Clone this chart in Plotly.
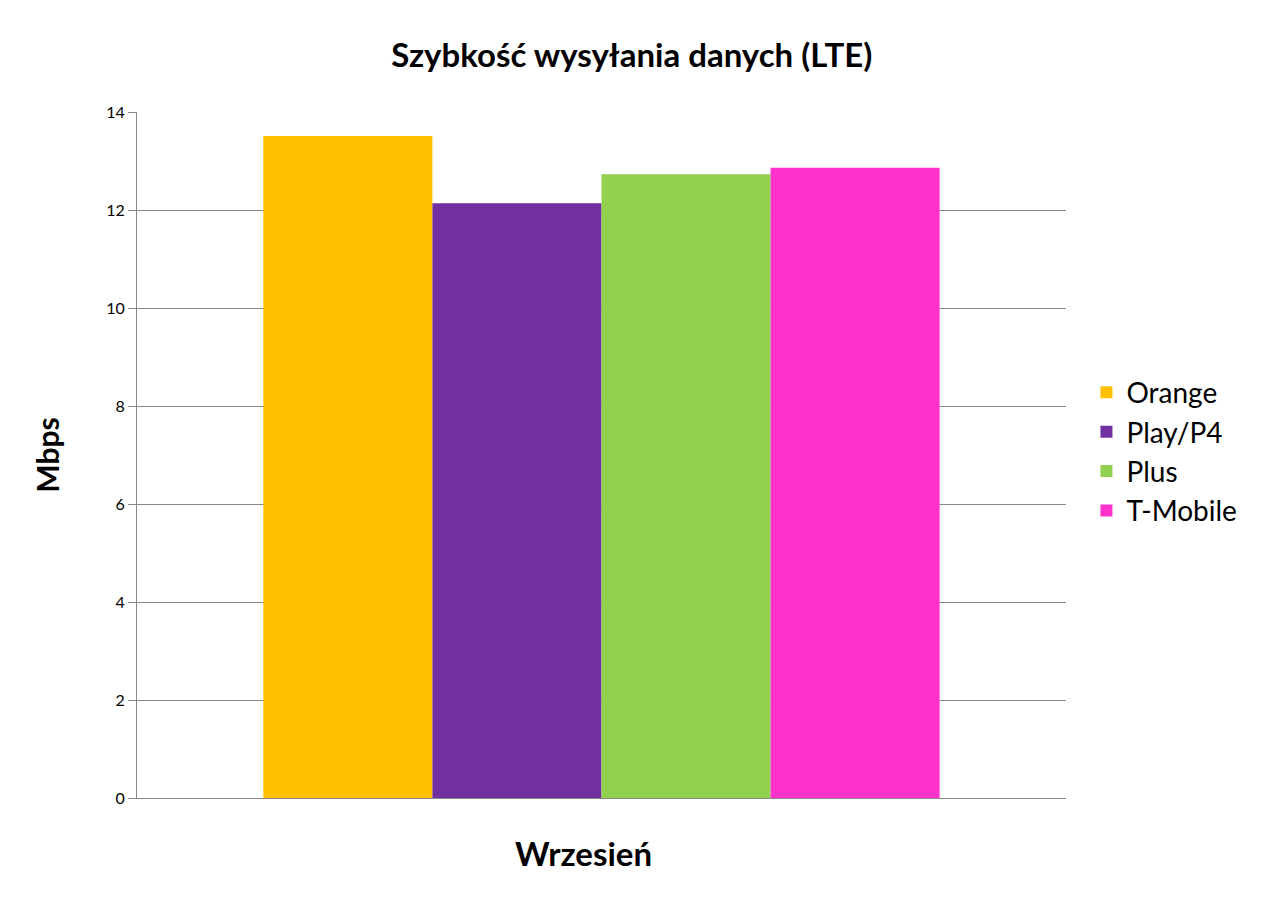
import plotly.graph_objects as go

# Dane
operatorzy = ["Orange", "Play/P4", "Plus", "T-Mobile"]
wartosci = [13.51, 12.14, 12.73, 12.86]
kolory = ["#FFC000", "#7030A0", "#92D050", "#FF33CC"]
miesiac = ["Wrzesień"]

fig = go.Figure()
for nazwa, w, k in zip(operatorzy, wartosci, kolory):
    fig.add_trace(go.Bar(x=miesiac, y=[w], name=nazwa, marker=dict(color=k, line=dict(width=0))))

fig.update_layout(
    width=1268, height=907,
    barmode="group", bargap=0.272, bargroupgap=0,
    font=dict(family="Lato, Open Sans, sans-serif", color="black"),
    paper_bgcolor="white", plot_bgcolor="white",
    margin=dict(l=129, r=210, t=104, b=117),
    title=dict(text="<b>Szybkość wysyłania danych (LTE)</b>", x=0.492, xanchor="center",
               xref="container", y=0.948, yanchor="middle", font=dict(size=33)),
    legend=dict(x=1.022, xanchor="left", y=0.505, yanchor="middle", font=dict(size=28),
                itemsizing="constant", tracegroupgap=0),
    showlegend=True,
)
# podpis osi X jako adnotacja (przesunięty względem środka wykresu)
fig.add_annotation(text="<b>Wrzesień</b>", xref="paper", yref="paper", x=0.481, y=-0.08,
                   xanchor="center", yanchor="middle", showarrow=False, font=dict(size=33))
fig.update_xaxes(showticklabels=False, showline=True, linecolor="#888888", linewidth=1)
fig.update_yaxes(range=[0, 14], dtick=2, showgrid=True, gridcolor="#888888", gridwidth=1,
                 showline=True, linecolor="#888888", linewidth=1, ticks="outside",
                 ticklen=8, tickcolor="#888888", tickfont=dict(size=16), zeroline=False,
                 title=dict(text="<b>Mbps</b>", font=dict(size=30), standoff=37))

fig.write_html("out.html")
